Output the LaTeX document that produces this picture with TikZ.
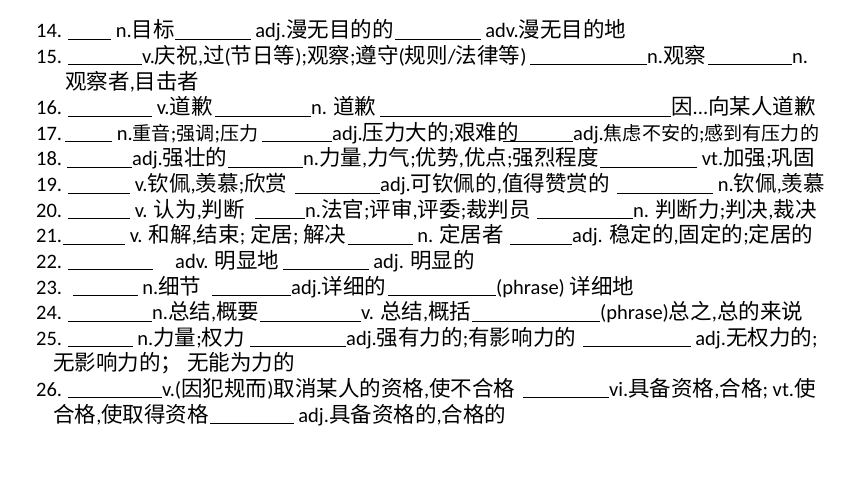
\documentclass[tikz,border=0pt]{standalone}
\usepackage{fontspec}
\setmainfont{Carlito}
\newfontfamily\latinfont{Carlito}
\newfontfamily\cjkfont{Noto Sans CJK SC}[Scale=1.05]
\newfontfamily\cjknarrow{Noto Sans CJK SC}[Scale=0.93]
% switch to the CJK font for Han characters and full-width signs
\XeTeXinterchartokenstate=1
\newXeTeXintercharclass\hanclass
\newcount\hanchar
\hanchar="4E00
\loop \XeTeXcharclass\hanchar=\hanclass \advance\hanchar by 1 \ifnum\hanchar<"A000 \repeat
\hanchar="FF00
\loop \XeTeXcharclass\hanchar=\hanclass \advance\hanchar by 1 \ifnum\hanchar<"FFF0 \repeat
\XeTeXinterchartoks 0 \hanclass = {\cjkfont}
\XeTeXinterchartoks 4095 \hanclass = {\cjkfont}
\XeTeXinterchartoks \hanclass 0 = {\latinfont}
\usepackage{tikz}
\newcommand{\blank}[1]{\rule[-1.8pt]{#1pt}{0.9pt}}

\begin{document}
\begin{tikzpicture}[x=1pt,y=-1pt]%
        \path[use as bounding box] (0,0) rectangle (860,484);%%
        \begin{scope}
            \tikzstyle{every node}=[anchor=base west,inner sep=0pt,font=\fontsize{20.5}{24}\selectfont];%%
            \tikzstyle{narrow}=[font=\fontsize{20.5}{24}\selectfont\let\cjkfont\cjknarrow];%%
            \foreach \n/\y in {14/38,15/63.6,16/114.8,17/140.4,18/166,19/191.6,20/217.2,%
                21/242.8,22/268.4,23/294,24/319.6,25/345.2,26/396.4}
                \node (n\n) at (36,\y) {\n.}; %%
            \node (s14a) at (68,38)  {\blank{43} n.目标}; %%
            \node (s14b) at (175,38) {\blank{75.5} adj.漫无目的的}; %%
            \node (s14c) at (395,38) {\blank{85.5} adv.漫无目的地}; %%
            \node (s15a) at (68,63.6)  {\blank{74}v.庆祝,过(节日等);观察;遵守(规则/法律等)}; %%
            \node (s15b) at (530,63.6) {\blank{117}n.观察}; %%
            \node (s15c) at (708,63.6) {\blank{84}n.}; %%
            \node (s15d) at (65,89.2)  {观察者,目击者}; %%
            \node (s16a) at (68,114.8)  {\blank{84} v.道歉}; %%
            \node (s16b) at (215,114.8) {\blank{96}n. 道歉}; %%
            \node (s16c) at (380,114.8) {\blank{291}因...向某人道歉}; %%
            \node[narrow] (s17a) at (65,140.4) {\blank{47} n.重音;强调;压力}; %%
            \node (s17b) at (262,140.4) {\blank{70}adj.压力大的;艰难的}; %%
            \node[narrow] (s17c) at (503,140.4) {\blank{70}adj.焦虑不安的;感到有压力的}; %%
            \node (s18a) at (67,166)  {\blank{65}adj.强壮的}; %%
            \node (s18b) at (228,166) {\blank{75}n.力量,力气;优势,优点;强烈程度}; %%
            \node (s18c) at (600,166) {\blank{97} vt.加强;巩固}; %%
            \node (s19a) at (68,191.6)  {\blank{62} v.钦佩,羡慕;欣赏}; %%
            \node (s19b) at (295,191.6) {\blank{85}adj.可钦佩的,值得赞赏的}; %%
            \node (s19c) at (617,191.6) {\blank{96} n.钦佩,羡慕}; %%
            \node (s20a) at (68,217.2)  {\blank{62} v. 认为,判断}; %%
            \node (s20b) at (255,217.2) {\blank{50}n.法官;评审,评委;裁判员}; %%
            \node (s20c) at (537,217.2) {\blank{96}n. 判断力;判决,裁决}; %%
            \node (s21a) at (63,242.8)  {\blank{62} v. 和解,结束; 定居; 解决}; %%
            \node (s21b) at (348,242.8) {\blank{64.5} n. 定居者}; %%
            \node (s21c) at (510,242.8) {\blank{62}adj. 稳定的,固定的;定居的}; %%
            \node (s22a) at (68,268.4)  {\blank{85}\hspace{22pt}adv. 明显地}; %%
            \node (s22b) at (283,268.4) {\blank{85.5} adj. 明显的}; %%
            \node (s23a) at (73,294)  {\blank{64.5} n.细节}; %%
            \node (s23b) at (212,294) {\blank{79}adj.详细的}; %%
            \node (s23c) at (388,294) {\blank{108}(phrase) 详细地}; %%
            \node (s24a) at (68,319.6)  {\blank{84}n.总结,概要}; %%
            \node (s24b) at (260,319.6) {\blank{101}v. 总结,概括}; %%
            \node (s24c) at (472,319.6) {\blank{128}(phrase)总之,总的来说}; %%
            \node (s25a) at (68,345.2)  {\blank{64.5} n.力量;权力}; %%
            \node (s25b) at (250,345.2) {\blank{96}adj.强有力的;有影响力的}; %%
            \node (s25c) at (583,345.2) {\blank{107.5} adj.无权力的;}; %%
            \node (s25d) at (53,370.8)  {无影响力的； 无能为力的}; %%
            \node (s26a) at (68,396.4)  {\blank{94}v.(因犯规而)取消某人的资格,使不合格}; %%
            \node (s26b) at (523,396.4) {\blank{86}vi.具备资格,合格; vt.使}; %%
            \node (s26c) at (53,422)    {合格,使取得资格}; %%
            \node (s26d) at (210,422)   {\blank{83.5} adj.具备资格的,合格的}; %%
        \end{scope}
\end{tikzpicture}
\end{document}
